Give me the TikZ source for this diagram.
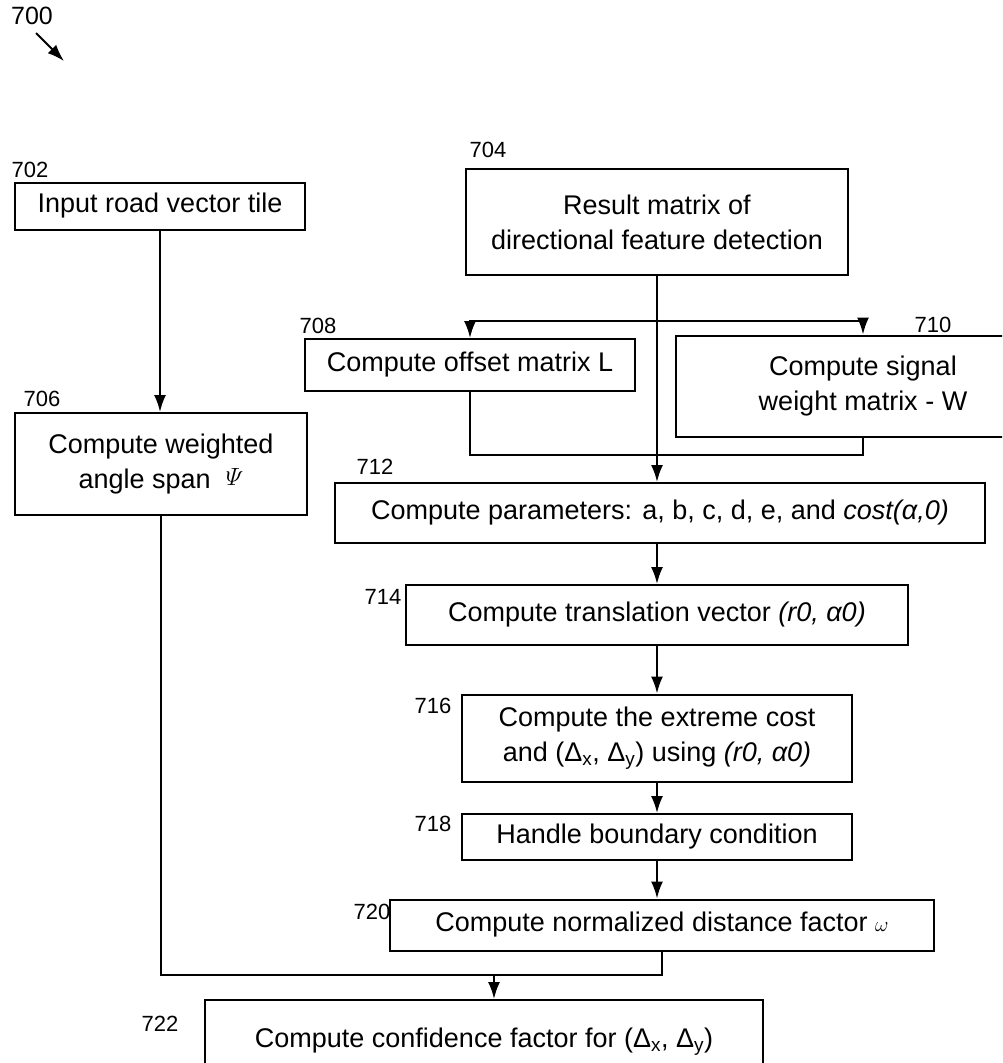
\documentclass[tikz,border=0pt]{standalone}
\usepackage{amsmath}
\usepackage{fontspec}
\setmainfont{Liberation Sans}
\usetikzlibrary{arrows.meta}

\begin{document}
\begin{tikzpicture}[x=1pt,y=-1pt,
        box/.style={draw,line width=2pt,inner sep=0pt,align=center,font=\fontsize{27}{35}\selectfont},
        num/.style={inner sep=0pt,font=\fontsize{22}{22}\selectfont},
        ln/.style={line width=2pt},
        arr/.style={line width=2pt,-{Latex[length=17pt,width=12pt]}}]
        \clip (0,0) rectangle (1002,1063);
        \node[num,font=\fontsize{25}{25}\selectfont] (n700) at (32,16) {700};
        \draw[arr] ([xshift=4pt,yshift=-8pt]n700.south) -- ++(28,28);
        \node[box,minimum width=290pt,minimum height=47pt] (b702) at (160,206) {Input road vector tile};
        \node[box,minimum width=382pt,minimum height=106pt] (b704) at (657,222) {Result matrix of\\directional feature detection};
        \node[box,minimum width=292pt,minimum height=102pt] (b706) at (161,464) {Compute weighted\\angle span\ \ \raisebox{3pt}{\fontsize{26}{26}\selectfont$\varPsi$}};
        \node[box,minimum width=330pt,minimum height=52pt] (b708) at (470,365) {Compute offset matrix L};
        \node[box,minimum width=374pt,minimum height=101pt] (b710) at (863,386) {Compute signal\\weight matrix - W};
        \node[box,minimum width=650pt,minimum height=60pt] (b712) at (660,513) {Compute parameters: a, b, c, d, e, and \textit{cost(α,0)}};
        \node[box,minimum width=502pt,minimum height=60pt] (b714) at (657,615) {Compute translation vector \textit{(r0, α0)}};
        \node[box,minimum width=390pt,minimum height=87pt] (b716) at (657,738) {Compute the extreme cost\\and (Δ\textsubscript{x}, Δ\textsubscript{y}) using \textit{(r0, α0)}};
        \node[box,minimum width=390pt,minimum height=46pt] (b718) at (657,837) {Handle boundary condition};
        \node[box,minimum width=544pt,minimum height=51pt] (b720) at (662,925) {Compute normalized distance factor\ {\fontsize{20}{20}\selectfont$\omega$}};
        \node[box,minimum width=558pt,minimum height=84pt] (b722) at (484,1042) {Compute confidence factor for (Δ\textsubscript{x}, Δ\textsubscript{y})};
        \foreach \n/\x/\y in {702/30/170,704/488/150,706/42/399,708/318/326,710/933/325,712/375/467,
            714/383/597,716/433/706,718/433/824,720/372/912,722/160/1024} {
            \node[num] (n\n) at (\x,\y) {\n};
        }
        \coordinate (split) at (657,321);
        \coordinate (merge) at (657,455);
        \coordinate (join) at (494,975);
        \draw[arr] (b702.south) -- (b702.south |- b706.north);
        \draw[arr] (b704.south) -- (b704.south |- b712.north);
        \draw[arr] (split) -| (b708.north);
        \draw[arr] (split) -| (b710.north);
        \draw[ln] (b708.south) |- (merge) -| (b710.south);
        \foreach \a/\b in {712/714,714/716,716/718,718/720} {
            \draw[arr] (b\a.south -| b714.south) -- (b714.south |- b\b.north);
        }
        \draw[ln] (b706.south) |- (join) -| (b720.south);
        \draw[arr] (join) -- (join |- b722.north);
\end{tikzpicture}
\end{document}
